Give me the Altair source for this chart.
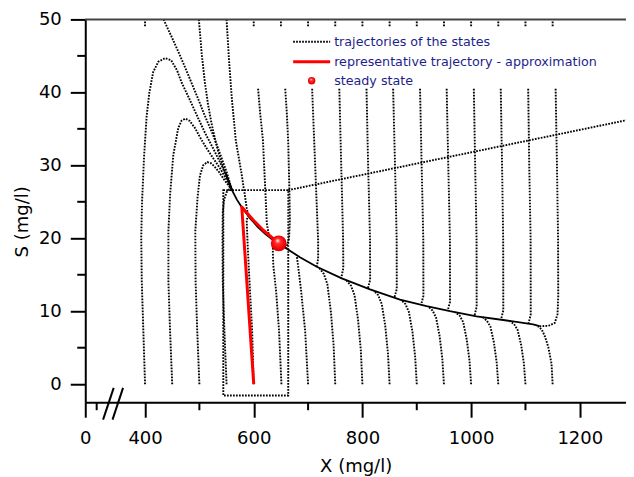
import altair as alt
import pandas as pd

# ---------------- data (X mg/l, S mg/l) ----------------
# trajectories started at S = 0
traj_s0_400 = [(400, 0), (397, 7), (394, 14), (393, 20), (394.5, 25), (398, 31), (403, 36.8), (408, 40),
               (415, 42.8), (424.5, 44.2), (437, 44.7), (448, 44.4), (459, 43), (467, 41.4), (481, 39.2),
               (495, 36.9), (510, 34.5), (525.5, 32.3), (538, 30.4), (550, 28.6), (560, 26.6)]
traj_s0_450 = [(450, 0), (446, 7.4), (443, 14), (443, 21), (446, 25.9), (452, 31.4), (461, 35.1), (467, 36.1),
               (474, 36.4), (482, 36.1), (492, 35.1), (503, 33.6), (513.5, 32.3), (526, 30.9), (538, 29.6),
               (548, 28.3), (556, 27.1), (560, 26.6)]
traj_s0_500 = [(500, 0), (496, 7.4), (493, 14), (492.5, 21), (496.5, 25.5), (501, 28.6), (507, 30.0),
               (514.5, 30.45), (521, 30.3), (527, 29.9), (535, 29.2), (544, 28.2), (552, 27.4), (560, 26.6)]
traj_s0_550 = [(550, 0), (546, 7.4), (543, 14), (542.5, 20), (543, 23.5), (545.5, 25.3), (550, 26.3),
               (555, 26.7), (560, 26.6)]
traj_s0_600 = [(600, 0), (597, 7.4), (592, 14.3), (588.5, 19.7), (587, 22.5), (590, 23.1)]
traj_s0_650 = [(651, 0), (646.5, 7.4), (641, 12.9), (636, 16.3), (635, 18.4), (638, 19.5), (646, 19.3)]
traj_s0_700 = [(700, 0), (694.5, 7.4), (687, 12.9), (681.5, 16.3), (679, 17.7)]
traj_s0_750 = [(750, 0), (747, 5.3), (742, 9.9), (735.5, 13.7), (729, 15.1), (721, 15.9)]
traj_s0_800 = [(800, 0), (797, 4.7), (792, 8.8), (785.5, 12.2), (779, 13.5), (771, 14.2)]
traj_s0_850 = [(850, 0), (847, 4.2), (842, 8.0), (835.5, 11.0), (829, 12.2), (821, 12.8)]
traj_s0_900 = [(900, 0), (897, 3.8), (892, 7.2), (885.5, 9.9), (879, 11.0), (871, 11.55)]
traj_s0_950 = [(950, 0), (947, 3.5), (942, 6.6), (935.5, 9.15), (929, 10.1), (921, 10.65)]
traj_s0_1000 = [(1000, 0), (997, 3.25), (992, 6.1), (985.5, 8.5), (979, 9.4), (971, 9.85)]
traj_s0_1050 = [(1050, 0), (1047, 3.0), (1042, 5.7), (1035.5, 7.9), (1029, 8.7), (1021, 9.2)]
traj_s0_1100 = [(1100, 0), (1097, 2.9), (1092, 5.4), (1085.5, 7.45), (1079, 8.25), (1071, 8.65)]
traj_s0_1150 = [(1150, 0), (1148, 2.8), (1142, 5.1), (1136, 6.5), (1130, 7.5), (1123, 7.95)]

# trajectories started at S = 40.5
traj_s40_600 = [(608, 40.5), (612, 37), (617, 33.4), (621, 27), (624, 22.1), (628, 20.3), (634, 19.85)]
traj_s40_650 = [(658, 40.5), (661, 37), (663.5, 33), (665.5, 27), (666.5, 22.5), (665, 20), (660, 18.65)]
traj_s40_700 = [(707.5, 40.5), (713, 30), (718.5, 19.7), (718.5, 17.2), (716, 16.1)]
traj_s40_750 = [(757.5, 40.5), (761, 30), (764.5, 19.7), (764.8, 15.9), (761, 14.55)]
traj_s40_800 = [(807.5, 40.5), (810.5, 30), (814, 19.7), (814.2, 14.3), (810, 13.1)]
traj_s40_850 = [(856.5, 40.5), (860, 30), (863, 19.7), (863.2, 13.05), (859, 11.9)]
traj_s40_900 = [(906, 40.5), (909, 30), (912, 19.7), (912.2, 12.1), (908, 10.9)]
traj_s40_950 = [(955, 40.5), (958, 30), (961, 19.7), (961.2, 11.3), (957, 10.1)]
traj_s40_1000 = [(1005, 40.5), (1007.5, 30), (1010, 19.7), (1010.2, 10.6), (1006, 9.35)]
traj_s40_1050 = [(1054.5, 40.5), (1057, 30), (1059, 19.7), (1059.2, 10.1), (1055, 8.85)]
traj_s40_1100 = [(1105, 40.5), (1107, 30), (1109.5, 19.7), (1109.7, 9.55), (1105.5, 8.3)]
traj_s40_1150 = [(1155.5, 40.5), (1158, 30), (1160, 19.7), (1160.3, 12), (1159, 9.6), (1154, 8.4),
                 (1142, 8.0), (1126, 7.95)]

# trajectories started at S = 50
traj_s50_433 = [(434, 50), (449, 47.6), (464, 45.1), (480, 42.3), (495, 39.6), (510, 36.8), (525.5, 34.1),
                (538, 31.6), (550, 29.1), (560, 26.6)]
traj_s50_500 = [(499, 50), (504, 45.5), (510, 41.4), (516, 38.3), (523, 35.5), (530, 33.2), (538, 31.0),
                (549, 28.6), (560, 26.6)]
traj_s50_550 = [(550, 50), (554.5, 44.4), (560, 38.9), (567, 33.4), (577.5, 28.9), (583, 26.2), (587, 24.2),
                (590, 23.1)]
# short stubs just under S = 50
stub_x = [400, 600, 650, 700, 750, 800, 850, 900, 950, 1000, 1050, 1100, 1150]
stub_s = [49.7, 48.9]

# slow manifold (overlapping trajectories, looks solid)
manifold = [(548, 29.0), (560, 26.6), (569, 25.3), (578, 24.25), (593, 22.75), (608, 21.5), (622, 20.55),
            (634, 19.85), (646, 19.3), (685, 17.4), (716, 16.1), (762, 14.5), (814, 13.0), (869, 11.6),
            (918, 10.7), (961, 10.0), (1010, 9.3), (1059, 8.8), (1114, 8.2), (1126, 7.95)]

# representative trajectory (approximation)
red_traj = [(600, 0), (578, 24.3), (599, 22.5), (617.5, 21.1), (636, 19.95), (646, 19.3)]

# steady state
steady_x = [646]
steady_s = [19.3]

# zoom box and its connector
box_x = [544, 663.5]
box_s = [-1.55, 26.6]
connector = [(663.5, 26.6), (1300, 36.4)]

# axis break marks ("//")
break_marks = [((322.8, -4.86), (342.3, -0.51)), ((340.2, -4.86), (359.5, -0.51))]

# ticks
x_major = [290, 400, 600, 800, 1000, 1200]
x_minor = [311, 500, 700, 900, 1100]
y_major = [0, 10, 20, 30, 40, 50]
y_minor = [5, 15, 25, 35, 45]

legend_labels = ["trajectories of the states", "representative trajectory - approximation", "steady state"]

# ---------------- tables ----------------
dotted_sets = [
    traj_s0_400, traj_s0_450, traj_s0_500, traj_s0_550, traj_s0_600, traj_s0_650, traj_s0_700, traj_s0_750,
    traj_s0_800, traj_s0_850, traj_s0_900, traj_s0_950, traj_s0_1000, traj_s0_1050, traj_s0_1100, traj_s0_1150,
    traj_s40_600, traj_s40_650, traj_s40_700, traj_s40_750, traj_s40_800, traj_s40_850, traj_s40_900,
    traj_s40_950, traj_s40_1000, traj_s40_1050, traj_s40_1100, traj_s40_1150,
    traj_s50_433, traj_s50_500, traj_s50_550,
]
rows = []
for i, tr in enumerate(dotted_sets):
    for k, (x, s) in enumerate(tr):
        rows.append({"id": f"t{i}", "k": k, "X": x, "S": s})
for j, x in enumerate(stub_x):
    for k, s in enumerate(stub_s):
        rows.append({"id": f"stub{j}", "k": k, "X": x, "S": s})
traj_df = pd.DataFrame(rows)

man_df = pd.DataFrame([{"k": k, "X": x, "S": s} for k, (x, s) in enumerate(manifold)])
red_df = pd.DataFrame([{"k": k, "X": x, "S": s} for k, (x, s) in enumerate(red_traj)])
conn_df = pd.DataFrame([{"k": k, "X": x, "S": s} for k, (x, s) in enumerate(connector)])
steady_df = pd.DataFrame({"X": steady_x, "S": steady_s})
box_df = pd.DataFrame({"x1": [box_x[0]], "x2": [box_x[1]], "s1": [box_s[0]], "s2": [box_s[1]]})
brk_df = pd.DataFrame([{"x1": a[0], "s1": a[1], "x2": b[0], "s2": b[1]} for a, b in break_marks])
xminor_df = pd.DataFrame({"X": x_minor})
yminor_df = pd.DataFrame({"S": y_minor})

# ---------------- chart ----------------
W, H = 541, 383
FONT = "DejaVu Sans"
DOT = [1.7, 1.3]
DOTW = 1.9
xscale = alt.Scale(domain=[290, 1285], nice=False, zero=False)
yscale = alt.Scale(domain=[-2.47, 50], nice=False, zero=False)
xaxis = alt.Axis(values=x_major, format="d", labelExpr="datum.value < 300 ? '0' : datum.label",
                 tickSize=15, labelPadding=12, titleY=55, grid=False, labelFlush=False, labelOverlap=False)
yaxis = alt.Axis(values=y_major, format="d", tickSize=15, labelPadding=9, titleX=-54, titleY=202,
                 grid=False, labelFlush=False, labelOverlap=False)
X = alt.X("X:Q", scale=xscale, axis=xaxis, title="X (mg/l)")
Y = alt.Y("S:Q", scale=yscale, axis=yaxis, title="S (mg/l)")

dotted = alt.Chart(traj_df).mark_line(color="black", strokeWidth=DOTW, strokeDash=DOT,
                                      strokeCap="butt", clip=True).encode(
    x=X, y=Y, detail="id:N", order="k:Q")

man_line = alt.Chart(man_df).mark_line(color="black", strokeWidth=1.8, clip=True).encode(x=X, y=Y, order="k:Q")

box = alt.Chart(box_df).mark_rect(filled=False, stroke="black", strokeWidth=DOTW, strokeDash=DOT).encode(
    x=alt.X("x1:Q", scale=xscale, axis=xaxis, title="X (mg/l)"), x2="x2:Q",
    y=alt.Y("s1:Q", scale=yscale, axis=yaxis, title="S (mg/l)"), y2="s2:Q")

conn = alt.Chart(conn_df).mark_line(color="black", strokeWidth=DOTW, strokeDash=DOT,
                                    clip=True).encode(x=X, y=Y, order="k:Q")

red = alt.Chart(red_df).mark_line(color="#ff0000", strokeWidth=3, strokeJoin="round").encode(
    x=X, y=Y, order="k:Q")

sphere_fill = alt.RadialGradient(gradient="radial", x1=0.42, y1=0.3, r1=0.0, x2=0.5, y2=0.5, r2=0.55,
                                 stops=[alt.GradientStop(offset=0, color="#ffffff"),
                                        alt.GradientStop(offset=0.3, color="#ff3030"),
                                        alt.GradientStop(offset=0.8, color="#ee0000"),
                                        alt.GradientStop(offset=1, color="#c00000")])
steady = alt.Chart(steady_df).mark_point(filled=True, shape="circle", size=250, fill=sphere_fill,
                                         opacity=1, strokeWidth=0).encode(x=X, y=Y)

brk = alt.Chart(brk_df).mark_rule(color="black", strokeWidth=2).encode(
    x=alt.X("x1:Q", scale=xscale, axis=xaxis, title="X (mg/l)"), x2="x2:Q",
    y=alt.Y("s1:Q", scale=yscale, axis=yaxis, title="S (mg/l)"), y2="s2:Q")

xminor = alt.Chart(xminor_df).mark_rule(color="black", strokeWidth=2).encode(
    x=X, y=alt.value(H), y2=alt.value(H + 8))
yminor = alt.Chart(yminor_df).mark_rule(color="black", strokeWidth=2).encode(
    y=Y, x=alt.value(0), x2=alt.value(-8))

one = pd.DataFrame({"a": [0]})
top_border = alt.Chart(one).mark_rule(color="#444444", strokeWidth=2).encode(
    x=alt.value(0), x2=alt.value(W), y=alt.value(0))

LX0, LX1, LT = 208, 245, 249
LY = [22.4, 42.4, 61.4]
leg_dot_line = alt.Chart(one).mark_rule(color="black", strokeWidth=DOTW, strokeDash=DOT).encode(
    x=alt.value(LX0), x2=alt.value(LX1), y=alt.value(LY[0]))
leg_red_line = alt.Chart(one).mark_rule(color="#ff0000", strokeWidth=3).encode(
    x=alt.value(LX0), x2=alt.value(LX1), y=alt.value(LY[1]))
leg_dot = alt.Chart(one).mark_point(filled=True, shape="circle", size=55, fill=sphere_fill, opacity=1,
                                    strokeWidth=0).encode(x=alt.value((LX0 + LX1) / 2), y=alt.value(LY[2]))
leg_texts = [
    alt.Chart(pd.DataFrame({"t": [lab]})).mark_text(align="left", baseline="middle", font=FONT, fontSize=12.7,
                                                     color="#1e1e8c").encode(
        text="t:N", x=alt.value(LT), y=alt.value(ly))
    for lab, ly in zip(legend_labels, LY)
]

chart = alt.layer(
    box, conn, dotted, man_line, red, steady, brk, xminor, yminor, top_border,
    leg_dot_line, leg_red_line, leg_dot, *leg_texts
).properties(
    width=W, height=H,
    background="white",
    autosize=alt.AutoSizeParams(type="none"),
    padding={"left": 77.3, "top": 11.3, "right": 0, "bottom": 74},
).configure_view(stroke=None).configure_axis(
    labelFont=FONT, labelFontSize=18, labelColor="black",
    titleFont=FONT, titleFontSize=18, titleFontWeight="normal", titleColor="black",
    domainColor="black", domainWidth=2, tickColor="black", tickWidth=2,
)

chart.save("out.html", embed_options={"renderer": "svg", "actions": False})
